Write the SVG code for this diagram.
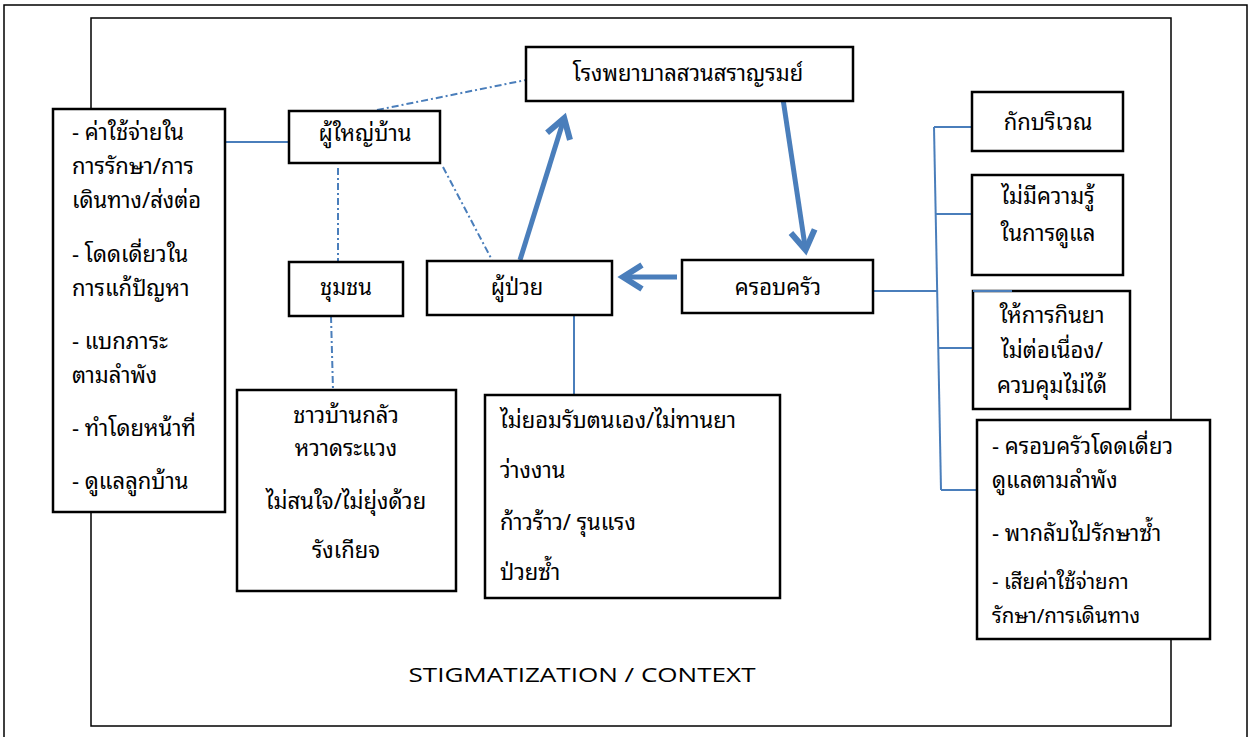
<svg xmlns="http://www.w3.org/2000/svg" width="1252" height="737" viewBox="0 0 1252 737">
<style>
  .frame{fill:none;stroke:#000;stroke-width:1.5}
  .box{fill:#fff;stroke:#000;stroke-width:2.5}
  .t{font-family:"Noto Sans Thai Looped","Noto Sans Thai","Noto Sans","DejaVu Sans",sans-serif;font-size:22px;fill:#000}
  .s{font-size:20.5px}
  .c{text-anchor:middle}
  .solid{fill:none;stroke:#4a7ebb;stroke-width:2}
  .dd{fill:none;stroke:#4a7ebb;stroke-width:2;stroke-dasharray:7 3 2 3}
  .thick{fill:none;stroke:#4a7ebb;stroke-width:5;marker-end:url(#ah)}
  .en{font-family:"Open Sans","Liberation Sans",sans-serif;font-size:20px;fill:#000}
</style>
<defs>
  <marker id="ah" markerUnits="userSpaceOnUse" viewBox="-22 -16 32 32" refX="-2" refY="0" markerWidth="32" markerHeight="32" orient="auto">
    <path d="M-17,-12 L2,0 L-17,12" fill="none" stroke="#4a7ebb" stroke-width="6" stroke-linejoin="miter"/>
  </marker>
</defs>
<rect class="frame" x="4" y="5" width="1243" height="745"/>
<rect class="frame" x="91" y="18" width="1080" height="708"/>
<text class="en" x="582" y="682" text-anchor="middle" textLength="347" lengthAdjust="spacingAndGlyphs">STIGMATIZATION / CONTEXT</text>

<g id="connectors">
  <line class="solid" x1="225" y1="142" x2="289" y2="142"/>
  <line class="dd" x1="377" y1="110" x2="526" y2="80"/>
  <line class="dd" x1="338" y1="168" x2="338" y2="261"/>
  <line class="dd" x1="443" y1="167" x2="492" y2="260"/>
  <line class="dd" x1="331" y1="316" x2="333" y2="390"/>
  <line class="solid" x1="574" y1="316" x2="574" y2="394"/>
  <line class="thick" x1="520" y1="260" x2="563" y2="122"/>
  <line class="thick" x1="783" y1="99" x2="805" y2="246"/>
  <line class="thick" x1="677" y1="277" x2="627" y2="277"/>
  <line class="solid" x1="873" y1="291" x2="937" y2="291"/>
  <line class="solid" x1="934" y1="127" x2="941" y2="490"/>
  <line class="solid" x1="934" y1="127" x2="972" y2="127"/>
  <line class="solid" x1="935" y1="214" x2="972" y2="214"/>
  <line class="solid" x1="938" y1="348" x2="973" y2="348"/>
  <line class="solid" x1="941" y1="490" x2="977" y2="490"/>
</g>

<g id="node-left">
  <rect class="box" x="53" y="109" width="172" height="403"/>
  <text class="t" x="72" y="140">- ค่าใช้จ่ายใน</text>
  <text class="t" x="72" y="174">การรักษา/การ</text>
  <text class="t" x="72" y="208">เดินทาง/ส่งต่อ</text>
  <text class="t" x="72" y="262">- โดดเดี่ยวใน</text>
  <text class="t" x="72" y="296">การแก้ปัญหา</text>
  <text class="t" x="72" y="349">- แบกภาระ</text>
  <text class="t" x="72" y="383">ตามลำพัง</text>
  <text class="t" x="72" y="436">- ทำโดยหน้าที่</text>
  <text class="t" x="72" y="489">- ดูแลลูกบ้าน</text>
</g>
<g id="node-headman">
  <rect class="box" x="289" y="111" width="151" height="52"/>
  <text class="t c" x="365" y="141">ผู้ใหญ่บ้าน</text>
</g>
<g id="node-hospital">
  <rect class="box" x="526" y="47" width="327" height="54"/>
  <text class="t c" x="688" y="81">โรงพยาบาลสวนสราญรมย์</text>
</g>
<g id="node-community">
  <rect class="box" x="289" y="262" width="114" height="54"/>
  <text class="t c" x="346" y="295">ชุมชน</text>
</g>
<g id="node-patient">
  <rect class="box" x="427" y="261" width="185" height="54"/>
  <text class="t c" x="517" y="295">ผู้ป่วย</text>
</g>
<g id="node-family">
  <rect class="box" x="682" y="260" width="191" height="53"/>
  <text class="t c" x="778" y="295">ครอบครัว</text>
</g>
<g id="node-villagers">
  <rect class="box" x="237" y="390" width="219" height="201"/>
  <text class="t c" x="346" y="423">ชาวบ้านกลัว</text>
  <text class="t c" x="346" y="456">หวาดระแวง</text>
  <text class="t c" x="346" y="509">ไม่สนใจ/ไม่ยุ่งด้วย</text>
  <text class="t c" x="346" y="558">รังเกียจ</text>
</g>
<g id="node-patient-issues">
  <rect class="box" x="485" y="395" width="295" height="203"/>
  <text class="t" x="500" y="428">ไม่ยอมรับตนเอง/ไม่ทานยา</text>
  <text class="t" x="500" y="478">ว่างงาน</text>
  <text class="t" x="500" y="530">ก้าวร้าว/ รุนแรง</text>
  <text class="t" x="500" y="580">ป่วยซ้ำ</text>
</g>
<g id="node-quarantine">
  <rect class="box" x="972" y="92" width="151" height="59"/>
  <text class="t c" x="1048" y="130">กักบริเวณ</text>
</g>
<g id="node-noknowledge">
  <rect class="box" x="972" y="175" width="151" height="100"/>
  <text class="t c" x="1048" y="204">ไม่มีความรู้</text>
  <text class="t c" x="1048" y="241">ในการดูแล</text>
</g>
<g id="node-medication">
  <rect class="box" x="973" y="291" width="157" height="118"/>
  <text class="t c" x="1052" y="323">ให้การกินยา</text>
  <text class="t c" x="1052" y="358">ไม่ต่อเนื่อง/</text>
  <text class="t c" x="1052" y="393">ควบคุมไม่ได้</text>
</g>
<g id="node-family-issues">
  <rect class="box" x="977" y="420" width="233" height="219"/>
  <text class="t" x="992" y="454">- ครอบครัวโดดเดี่ยว</text>
  <text class="t" x="992" y="488">ดูแลตามลำพัง</text>
  <text class="t" x="992" y="541">- พากลับไปรักษาซ้ำ</text>
  <text class="t s" x="992" y="589">- เสียค่าใช้จ่ายกา</text>
  <text class="t s" x="992" y="623">รักษา/การเดินทาง</text>
</g>
<line class="solid" x1="973" y1="291" x2="1012" y2="291"/>
</svg>
